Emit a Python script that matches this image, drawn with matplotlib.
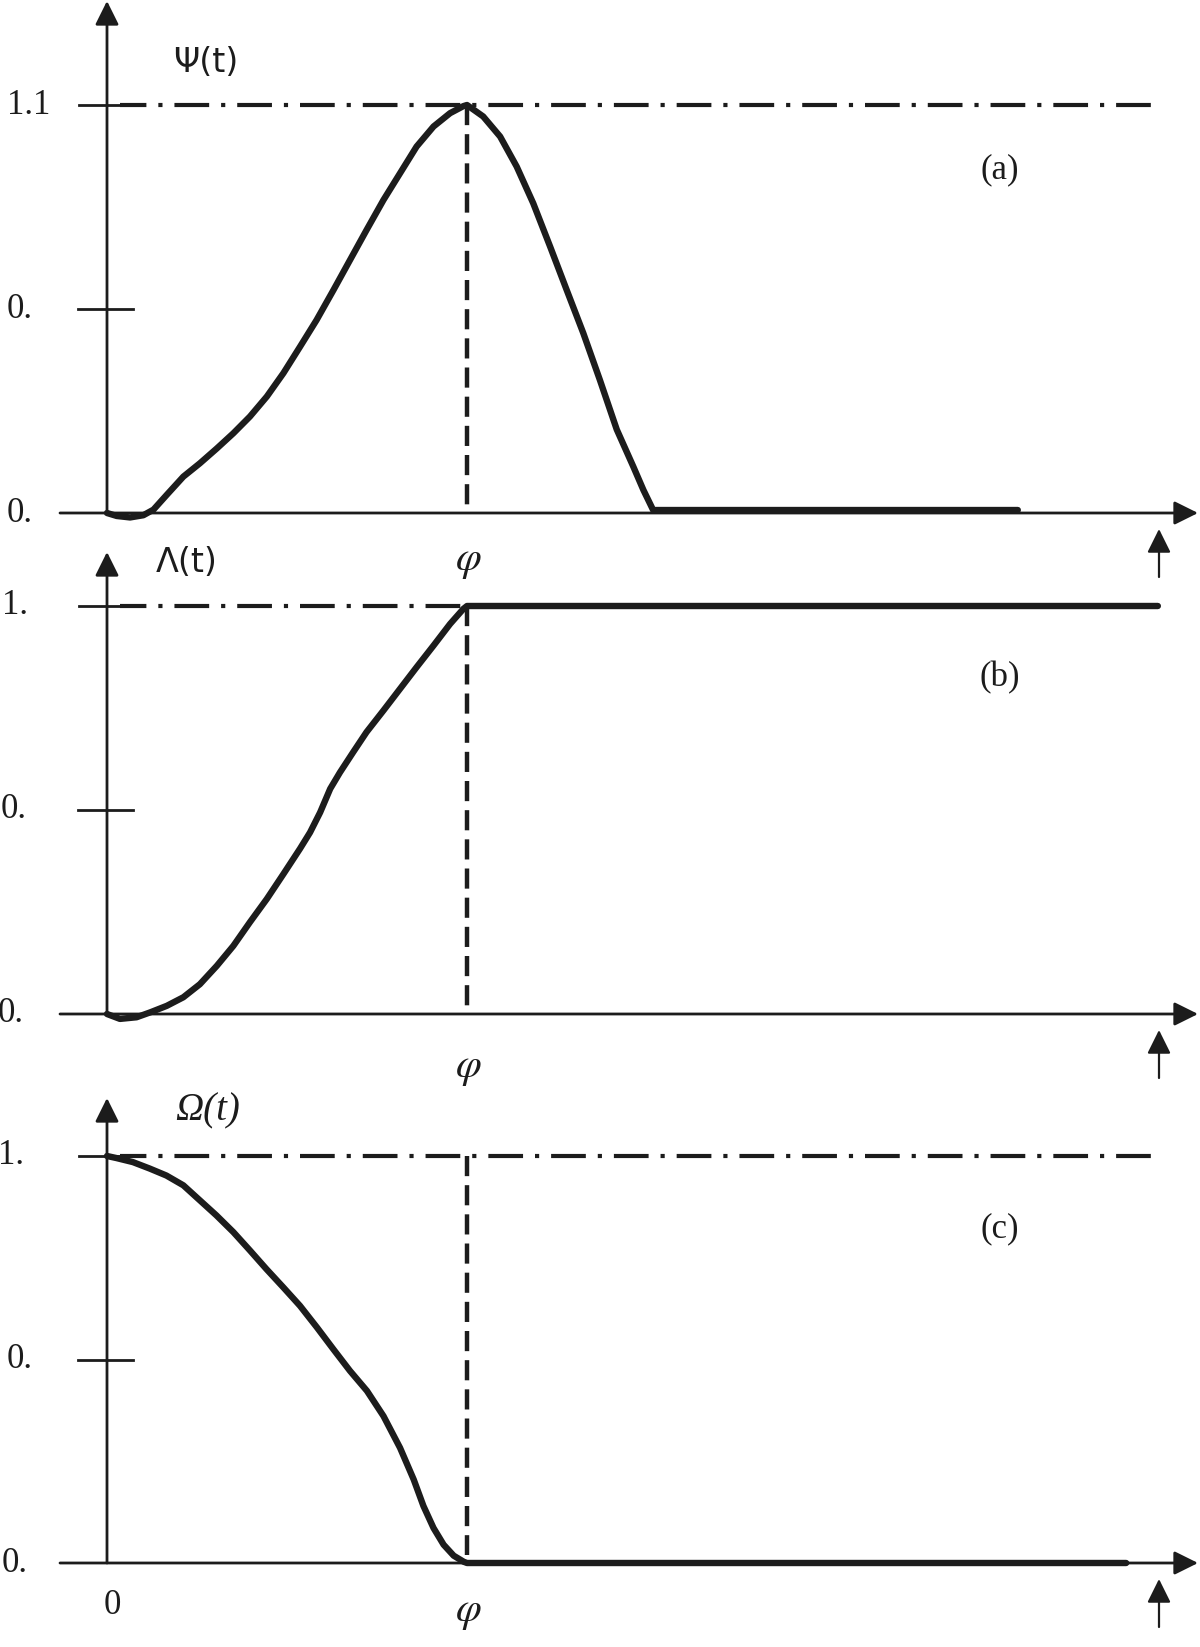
import matplotlib
matplotlib.use("Agg")
import matplotlib.pyplot as plt

plt.rcParams['mathtext.fontset'] = 'stix'
plt.rcParams['lines.scale_dashes'] = False

# ---------------- data (t in units of phi) ----------------
psi_t = [0, 0.027, 0.064, 0.101, 0.129, 0.166, 0.212, 0.258, 0.305, 0.351, 0.397,
         0.444, 0.490, 0.536, 0.582, 0.629, 0.675, 0.721, 0.768, 0.814, 0.860,
         0.907, 0.953, 0.990, 1.0, 1.045, 1.092, 1.138, 1.184, 1.231, 1.277,
         1.323, 1.369, 1.416, 1.462, 1.490, 1.517, 2.53]
psi_v = [0, -0.008, -0.012, -0.006, 0.009, 0.049, 0.098, 0.134, 0.174, 0.215, 0.260,
         0.314, 0.377, 0.448, 0.520, 0.601, 0.682, 0.763, 0.844, 0.916, 0.988,
         1.042, 1.078, 1.097, 1.1, 1.069, 1.015, 0.934, 0.835, 0.718, 0.601,
         0.485, 0.359, 0.225, 0.125, 0.062, 0.008, 0.008]

lam_t = [0, 0.036, 0.082, 0.120, 0.166, 0.212, 0.258, 0.305, 0.351, 0.397, 0.444,
         0.490, 0.536, 0.564, 0.592, 0.620, 0.647, 0.684, 0.721, 0.768, 0.814,
         0.860, 0.907, 0.953, 0.990, 1.0, 2.919]
lam_v = [0, -0.012, -0.008, 0.004, 0.020, 0.041, 0.073, 0.118, 0.167, 0.225, 0.282,
         0.343, 0.405, 0.445, 0.494, 0.552, 0.592, 0.642, 0.691, 0.744, 0.797,
         0.850, 0.903, 0.956, 0.993, 1.0, 1.0]

omg_t = [0, 0.026, 0.072, 0.119, 0.165, 0.212, 0.258, 0.304, 0.351, 0.397, 0.443,
         0.490, 0.536, 0.583, 0.629, 0.675, 0.722, 0.768, 0.814, 0.852, 0.879,
         0.907, 0.935, 0.963, 0.991, 1.0, 2.831]
omg_v = [1.0, 0.995, 0.985, 0.969, 0.952, 0.928, 0.891, 0.854, 0.813, 0.768, 0.722,
         0.677, 0.632, 0.579, 0.525, 0.472, 0.423, 0.361, 0.283, 0.205, 0.140,
         0.086, 0.045, 0.018, 0.003, 0.0, 0.0]

phi_t = 1.0
top_levels = [1.1, 1.0, 1.0]
top_labels = ["1.1", "1.", "1."]
mid_labels = ["0.", "0.", "0."]
base_labels = ["0.", "0.", "0."]
func_labels = ["Ψ(t)", "Λ(t)", "Ω(t)"]
panel_tags = ["(a)", "(b)", "(c)"]
phi_label = r"$\varphi$"
origin_label = "0"

# ---------------- layout ----------------
W, H = 1200, 1647
X0, XU = 107, 360          # pixel of t=0, pixels per unit t
INK = "#1c1c1c"
SERIF = "Liberation Serif"

fig = plt.figure(figsize=(W / 100, H / 100), dpi=100)
fig.patch.set_facecolor("white")

panels = [
    dict(top=0, bottom=610, base=513, unit=408 / 1.1, tip=1),
    dict(top=520, bottom=1110, base=1014, unit=408, tip=552),
    dict(top=1060, bottom=1647, base=1563, unit=407, tip=1098),
]
curves = [(psi_t, psi_v), (lam_t, lam_v), (omg_t, omg_v)]

def px2t(px):
    return (px - X0) / XU

arrow_kw = dict(arrowstyle="-|>,head_length=1.45,head_width=0.72", mutation_scale=10,
                lw=2.0, color=INK, shrinkA=0, shrinkB=0)

label_right = [(50, 33, 33), (28, 27, 24), (24, 33, 28)]
func_pos = [(206, 63), (187, 563), (208, 1111)]
tag_pos = [(1000, 170), (1000, 678), (1000, 1229)]
phi_pos = [(468, 560), (468, 1067), (468, 1611)]

for i, p in enumerate(panels):
    base, unit = p["base"], p["unit"]
    ax = fig.add_axes([0, 1 - p["bottom"] / H, 1, (p["bottom"] - p["top"]) / H])
    ax.set_xlim(px2t(0), px2t(W))
    ax.set_ylim((base - p["bottom"]) / unit, (base - p["top"]) / unit)
    ax.axis("off")
    ax.patch.set_alpha(0)

    def py(pix):
        return (base - pix) / unit

    top = top_levels[i]
    mid = top / 2

    # axes with arrows
    ax.annotate("", xy=(px2t(1198), 0), xytext=(px2t(60), 0), arrowprops=arrow_kw)
    ax.annotate("", xy=(0, py(p["tip"])), xytext=(0, 0), arrowprops=arrow_kw)
    ax.annotate("", xy=(px2t(1159), py(base + 16)), xytext=(px2t(1159), py(base + 64)),
                arrowprops=dict(arrowstyle="-|>,head_length=1.45,head_width=0.72",
                                mutation_scale=10, lw=1.6, color=INK, shrinkA=0, shrinkB=0))

    # ticks
    ax.plot([px2t(79), px2t(120)], [top, top], color=INK, lw=2.0)
    ax.plot([px2t(78), px2t(133)], [mid, mid], color=INK, lw=2.0)

    # dash-dot reference level
    dd_end = phi_t if i == 1 else px2t(1156)
    ax.plot([px2t(120), dd_end], [top, top], color=INK, lw=3.0,
            linestyle=(6, (25, 8.6, 3, 8.6)), dash_capstyle="butt")

    # vertical dashed line at phi
    ax.plot([phi_t, phi_t], [top, py(base - 8)], color=INK, lw=3.2,
            linestyle=(0, (14.5, 6.5)), dash_capstyle="butt")

    # curve
    ct, cv = curves[i]
    ax.plot(ct, cv, color=INK, lw=4.6, solid_joinstyle="round", solid_capstyle="round")

    # tick labels
    lr = label_right[i]
    ax.text(px2t(lr[0]), top, top_labels[i], ha="right", va="center",
            fontsize=25, family=SERIF, color=INK)
    ax.text(px2t(lr[1]), mid, mid_labels[i], ha="right", va="center",
            fontsize=25, family=SERIF, color=INK)
    ax.text(px2t(lr[2]), 0, base_labels[i], ha="right", va="center",
            fontsize=25, family=SERIF, color=INK)

    fx, fy = func_pos[i]
    if i < 2:
        ax.text(px2t(fx), py(fy), func_labels[i], ha="center", va="center",
                fontsize=24, family="DejaVu Sans", color=INK)
    else:
        ax.text(px2t(fx), py(fy), func_labels[i], ha="center", va="center",
                fontsize=28, family=SERIF, style="italic", color=INK)
    tx, ty = tag_pos[i]
    ax.text(px2t(tx), py(ty), panel_tags[i], ha="center", va="center",
            fontsize=25, family=SERIF, color=INK)
    qx, qy = phi_pos[i]
    ax.text(px2t(qx), py(qy), phi_label, ha="center", va="center",
            fontsize=30, color=INK)
    if i == 2:
        ax.text(px2t(112), py(1605), origin_label, ha="center", va="center",
                fontsize=25, family=SERIF, color=INK)

fig.savefig("out.png", dpi=100, facecolor="white")
